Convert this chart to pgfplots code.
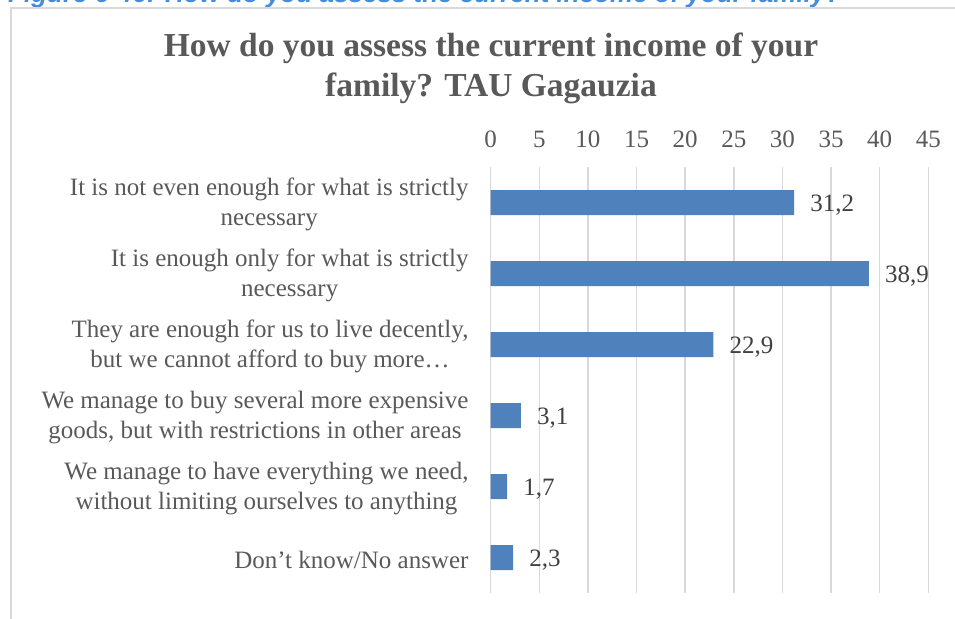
\documentclass[border=0pt]{standalone}
\usepackage{fontspec}
\setmainfont{Liberation Serif}
\usepackage{pgfplots}
\pgfplotsset{compat=1.18}
\definecolor{barblue}{HTML}{4F81BD}
\definecolor{gridgray}{HTML}{D9D9D9}
\definecolor{labelgray}{HTML}{595959}
\definecolor{datagray}{HTML}{404040}
\definecolor{capblue}{HTML}{468CDC}
\newfontfamily\capfont{Liberation Sans}
\begin{document}
\begin{tikzpicture}[x=1pt,y=1pt]
\clip (0,0) rectangle (955,618);
\useasboundingbox (0,0) rectangle (955,618);
\node[anchor=base west, inner sep=0pt, text=capblue, font=\capfont\bfseries\itshape\fontsize{26}{30}\selectfont] at (8,615) {Figure 6-46: How do you assess the current income of your family?};
\draw[gridgray, line width=1.5pt] (11,-20) -- (11,610) -- (980,610);
\node[anchor=base, inner sep=0pt, text=labelgray, font=\bfseries\fontsize{33.5}{40}\selectfont] at (491,561) {How do you assess the current income of your};
\node[anchor=base, inner sep=0pt, text=labelgray, font=\bfseries\fontsize{33.5}{40}\selectfont] at (491,521) {family? TAU Gagauzia};
\begin{axis}[
  at={(490.7pt,25pt)}, anchor=south west,
  scale only axis, width=437.6pt, height=426pt,
  xbar, bar width=25pt,
  xmin=0, xmax=45, ymin=-0.5, ymax=5.5, y dir=reverse,
  xtick={0,5,...,45}, ytick={0,...,5},
  yticklabels={{It is not even enough for what is strictly\\necessary},
               {It is enough only for what is strictly\\necessary},
               {They are enough for us to live decently,\\but we cannot afford to buy more…},
               {We manage to buy several more expensive\\goods, but with restrictions in other areas},
               {We manage to have everything we need,\\without limiting ourselves to anything},
               {Don’t know/No answer}},
  xticklabel pos=upper,
  axis line style={draw=none},
  major tick length=0pt,
  xmajorgrids, grid style={draw=gridgray, line width=1.5pt},
  /pgf/number format/assume math mode=true,
  xticklabel style={font=\fontsize{25}{30}\selectfont, text=labelgray, anchor=base, inner sep=0pt, yshift=20pt},
  yticklabel style={font=\fontsize{25}{30}\selectfont, text=labelgray, align=center, anchor=east, inner sep=0pt, xshift=-22pt, yshift=-2pt},
  nodes near coords={\pgfmathprintnumber[use comma, fixed, precision=1, fixed zerofill]{\pgfplotspointmeta}},
  nodes near coords style={anchor=west, inner sep=0pt, xshift=16pt, yshift=-3pt, font=\fontsize{25}{30}\selectfont, text=datagray},
]
\addplot[fill=barblue, draw=none] coordinates {(31.2,0) (38.9,1) (22.9,2) (3.1,3) (1.7,4) (2.3,5)};
\end{axis}
\end{tikzpicture}
\end{document}
